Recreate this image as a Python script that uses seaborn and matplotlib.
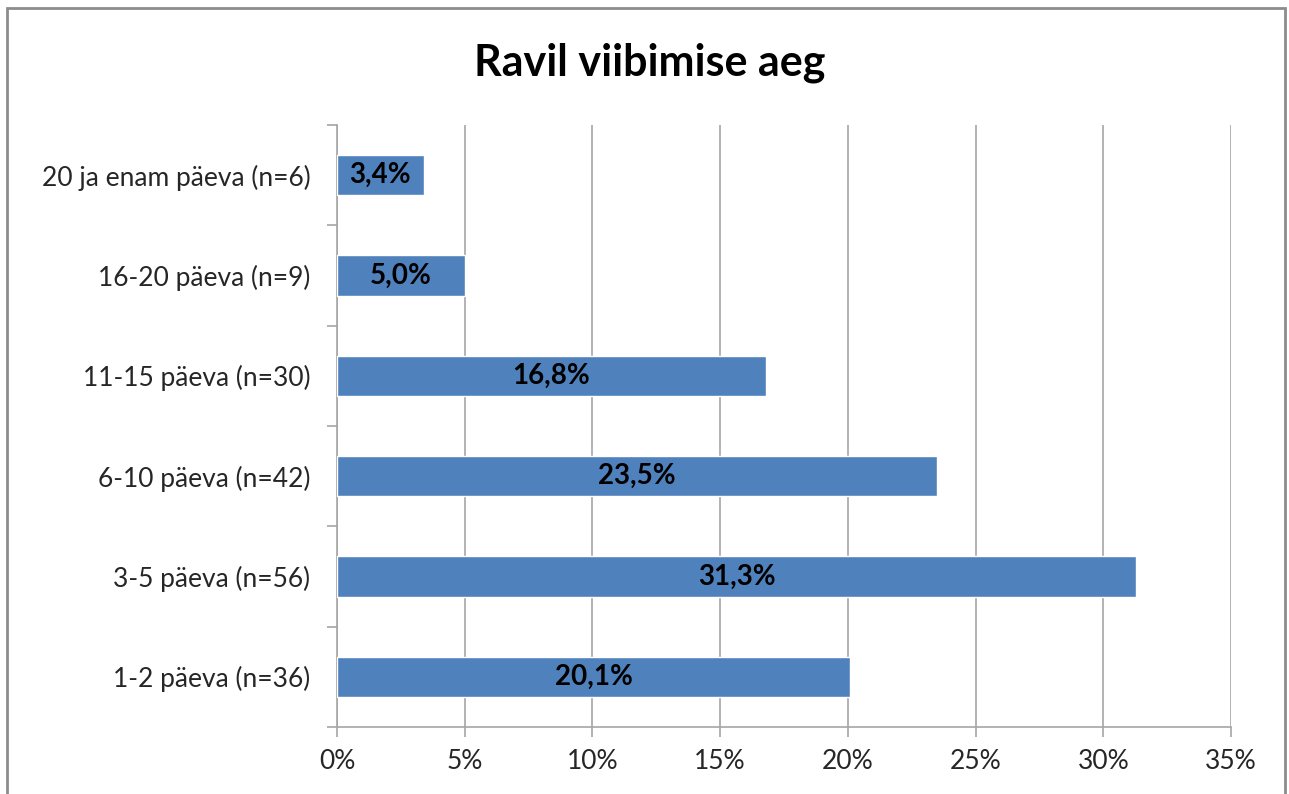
import matplotlib
matplotlib.use("Agg")
import pandas as pd
import seaborn as sns
import matplotlib.pyplot as plt
from matplotlib.patches import Rectangle
from matplotlib.ticker import MultipleLocator, FuncFormatter

# data, top to bottom as in the chart
categories = ['20 ja enam päeva (n=6)', '16-20 päeva (n=9)', '11-15 päeva (n=30)',
              '6-10 päeva (n=42)', '3-5 päeva (n=56)', '1-2 päeva (n=36)']
shares = [3.4, 5.0, 16.8, 23.5, 31.3, 20.1]

df = pd.DataFrame({'Kategooria': categories, 'Osakaal': shares})

sns.set_style("white")
plt.rcParams['font.family'] = ['Lato', 'DejaVu Sans']

fig = plt.figure(figsize=(12.89, 7.94), dpi=100)
ax = fig.add_axes([337 / 1289, 1 - 727 / 794, (1231 - 337) / 1289, (727 - 125) / 794])

sns.barplot(data=df, x='Osakaal', y='Kategooria', order=categories, orient='h',
            color='#4F81BD', saturation=1, width=0.4, ax=ax, zorder=3)

ax.set_xlim(0, 35)
ax.set_ylim(len(categories) - 0.5, -0.5)
ax.xaxis.set_major_locator(MultipleLocator(5))
ax.xaxis.set_major_formatter(FuncFormatter(lambda v, p: f'{v:.0f}%'))
ax.grid(axis='x', color='#a6a6a6', linewidth=1.2, zorder=0)
ax.set_axisbelow(True)
ax.set_xlabel('')
ax.set_ylabel('')

for s in ['top', 'right']:
    ax.spines[s].set_visible(False)
for s in ['left', 'bottom']:
    ax.spines[s].set_color('#a6a6a6')
    ax.spines[s].set_linewidth(1.2)

ax.tick_params(axis='x', length=7, width=1.2, color='#a6a6a6', labelsize=19, labelcolor='#262626', pad=9, direction='out', bottom=True)
ax.tick_params(axis='y', length=0, labelsize=19, labelcolor='#262626', pad=19)
ax.set_yticks(range(len(categories)), minor=False)
ax.set_yticks([i - 0.5 for i in range(len(categories) + 1)], minor=True)
ax.tick_params(axis='y', which='minor', length=7, width=1.2, color='#a6a6a6', left=True)

for i, v in enumerate(shares):
    ax.text(v / 2, i, f'{v:.1f}%'.replace('.', ','), ha='center', va='center',
            fontsize=20, fontweight='bold', color='black', zorder=4)

fig.text(650 / 1289, 1 - 63 / 794, 'Ravil viibimise aeg',
         ha='center', va='center', fontsize=31, fontweight='bold', color='black')

fig.patches.append(Rectangle((7 / 1289, -0.02), (1285 - 7) / 1289, 1.02 - 8 / 794,
                             transform=fig.transFigure, fill=False,
                             edgecolor='#8c8c8c', linewidth=2))

fig.savefig('out.png', dpi=100)
